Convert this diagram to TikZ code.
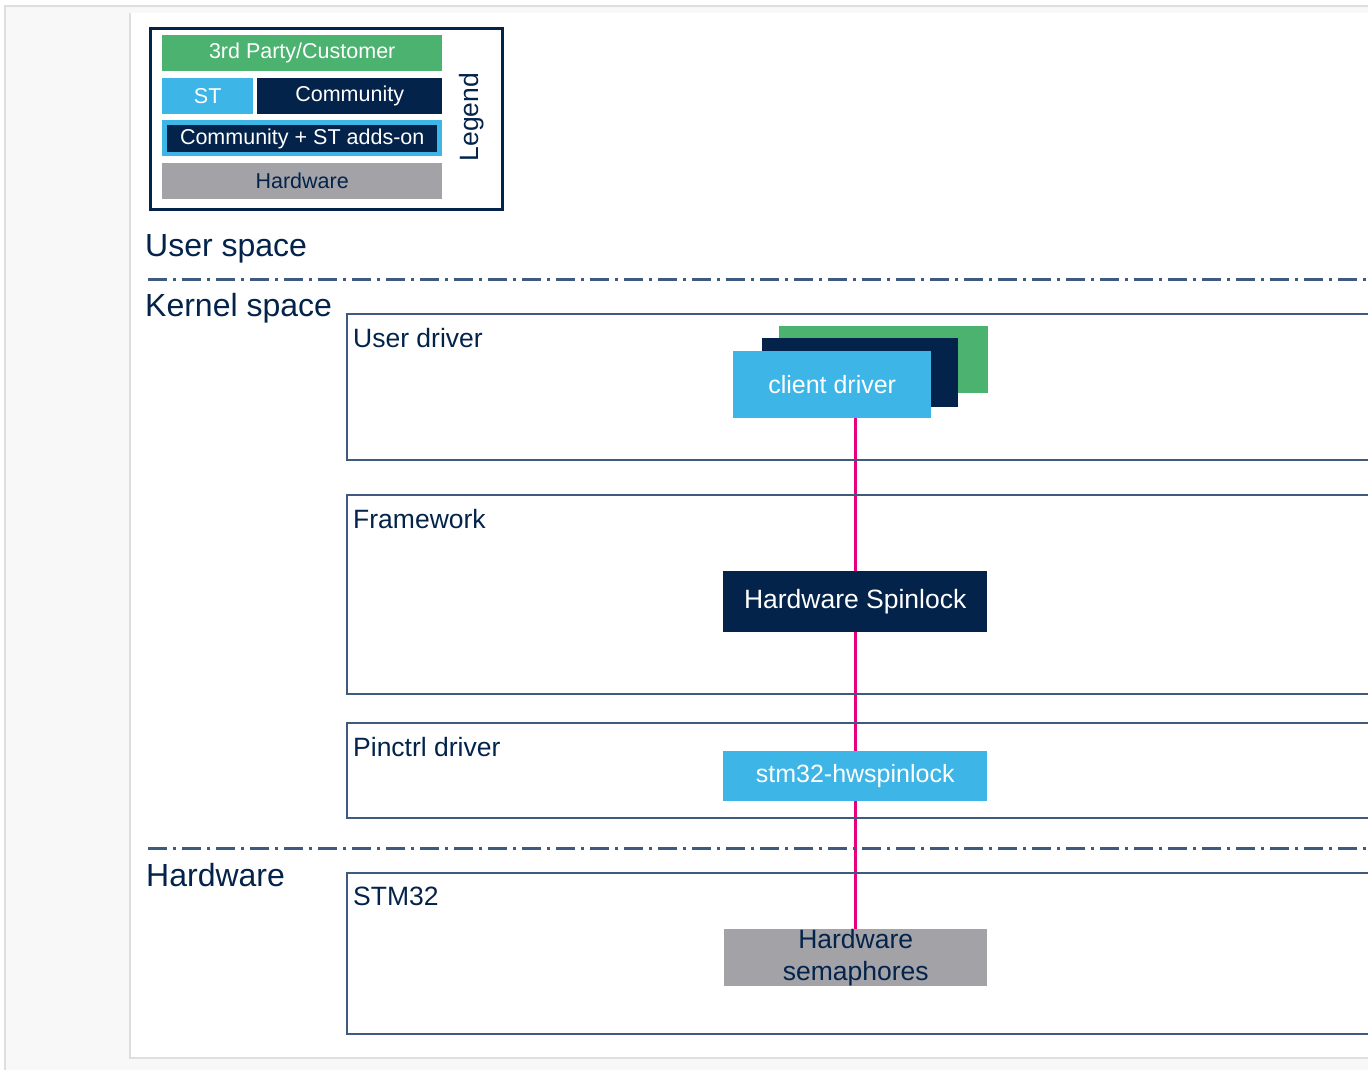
\documentclass[tikz,border=0pt]{standalone}
\usepackage{fontspec}
\setmainfont{Liberation Sans}
\usetikzlibrary{positioning}
\definecolor{stgreen}{RGB}{75,178,112}
\definecolor{stblue}{RGB}{61,181,230}
\definecolor{stnavy}{RGB}{3,35,75}
\definecolor{stgray}{RGB}{163,162,167}
\definecolor{frameline}{RGB}{62,90,126}
\definecolor{linkpink}{RGB}{230,0,126}
\definecolor{pagegray}{RGB}{248,248,248}
\definecolor{pageline}{RGB}{222,222,222}

\pgfdeclarelayer{back}
\pgfdeclarelayer{links}
\pgfsetlayers{back,links,main}

\tikzset{
  block/.style={anchor=north west, inner sep=0pt, align=center, text=white},
  legendtxt/.style={font=\fontsize{21.5}{24}\selectfont},
  boxtxt/.style={font=\fontsize{25}{32}\selectfont},
  area/.style={draw=frameline, line width=2pt, anchor=north west, inner sep=0pt},
  arealabel/.style={inner sep=0pt, text=stnavy, font=\fontsize{26.5}{30}\selectfont},
  spacelabel/.style={anchor=base west, inner sep=0pt, text=stnavy, font=\fontsize{32}{36}\selectfont},
  separator/.style={draw=frameline, line width=3pt, dash pattern=on 19pt off 6pt on 3pt off 6pt},
  link/.style={draw=linkpink, line width=3pt},
}

\begin{document}
\begin{tikzpicture}[x=1pt, y=-1pt]
  \useasboundingbox (0,0) rectangle (1368,1070);

  % page panels
  \begin{pgfonlayer}{back}
    \fill[pagegray] (5,6) rectangle (1368,1070);
    \draw[pageline, line width=1.5pt] (5,1070) -- (5,6) -- (1368,6);
    \fill[white] (130,13) rectangle (1368,1058);
    \draw[pageline, line width=1.5pt] (130,13) -- (130,1058) -- (1368,1058);
  \end{pgfonlayer}

  % legend
  \node[area, draw=stnavy, line width=3pt, minimum width=352pt, minimum height=181pt] (legend) at (149,27) {};
  \node[block, legendtxt, fill=stgreen, minimum width=280pt, minimum height=36pt] (thirdp) at (162,35) {3rd Party/Customer};
  \node[block, legendtxt, fill=stblue, minimum width=91pt, minimum height=36pt] (st) at (162,78) {ST};
  \node[block, legendtxt, fill=stnavy, minimum width=185pt, minimum height=36pt] (comm) at (257,78) {Community};
  \node[block, fill=stblue, minimum width=280pt, minimum height=36pt] (addon) at (162,120) {};
  \node[block, legendtxt, fill=stnavy, minimum width=270pt, minimum height=27pt] (addonin) at (167,125) {Community + ST adds-on};
  \node[block, legendtxt, fill=stgray, text=stnavy, minimum width=280pt, minimum height=36pt] (hwleg) at (162,163) {Hardware};
  \node[arealabel, rotate=90] (legendlbl) at (472,117) {Legend};

  % spaces
  \node[spacelabel] (userspace) at (145,256) {User space};
  \draw[separator] (148,279) -- (1368,279);
  \node[spacelabel] (kernelspace) at (145,316) {Kernel space};
  \draw[separator] (148,848) -- (1368,848);
  \node[spacelabel] (hwspace) at (146,886) {Hardware};

  % areas
  \node[area, minimum width=1044pt, minimum height=146pt] (udrv) at (346,313) {};
  \node[arealabel, below right=15pt and 7pt of udrv.north west] {User driver};
  \node[area, minimum width=1044pt, minimum height=199pt] (fw) at (346,494) {};
  \node[arealabel, below right=15pt and 7pt of fw.north west] {Framework};
  \node[area, minimum width=1044pt, minimum height=95pt] (pinctrl) at (346,722) {};
  \node[arealabel, below right=15pt and 7pt of pinctrl.north west] {Pinctrl driver};
  \node[area, minimum width=1044pt, minimum height=161pt] (stm) at (346,872) {};
  \node[arealabel, below right=15pt and 7pt of stm.north west] {STM32};

  % blocks
  \node[block, fill=stgreen, minimum width=209pt, minimum height=67pt] (clientc) at (779,326) {};
  \node[block, fill=stnavy, minimum width=196pt, minimum height=69pt] (clientb) at (762,338) {};
  \node[block, boxtxt, fill=stblue, minimum width=198pt, minimum height=67pt] (client) at (733,351) {client driver};
  \node[block, boxtxt, font=\fontsize{26.5}{30}\selectfont, fill=stnavy, minimum width=264pt, minimum height=61pt] (spin) at (723,571) {Hardware Spinlock};
  \node[block, boxtxt, fill=stblue, minimum width=264pt, minimum height=50pt] (hwspin) at (723,751) {stm32-hwspinlock};
  \node[block, font=\fontsize{26.5}{32}\selectfont, fill=stgray, text=stnavy, minimum width=263pt, minimum height=54pt] (sem) at (724,929) {Hardware\\semaphores};

  \begin{pgfonlayer}{links}
    \draw[link] (client.south -| spin.north) -- (sem.north -| spin.north);
  \end{pgfonlayer}
\end{tikzpicture}
\end{document}
